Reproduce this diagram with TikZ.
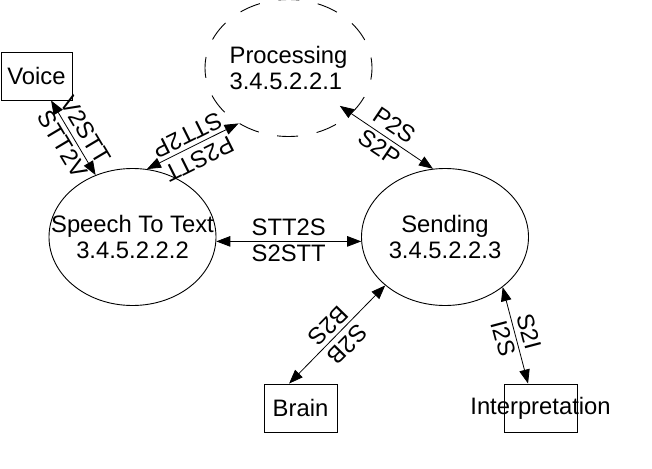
\documentclass[tikz,border=0pt]{standalone}
\usepackage{fontspec}
\setmainfont{Liberation Sans}
\usetikzlibrary{arrows.meta,shapes.geometric,calc}
\tikzset{
  txt/.style={font=\fontsize{23.8}{26}\selectfont, inner sep=0pt},
  ell/.style={ellipse, draw, line width=0.9pt, minimum width=167pt, minimum height=137pt, inner sep=0pt},
  dashell/.style={ell, dash pattern=on 21pt off 18.8pt, dash phase=10.5pt},
  box/.style={rectangle, draw, line width=0.9pt, minimum width=73pt, minimum height=48pt, inner sep=0pt},
  dbl/.style={line width=0.8pt, {Triangle[length=14pt,width=10.5pt]}-{Triangle[length=14pt,width=10.5pt]}},
  lab/.style={font=\fontsize{23.8}{26}\selectfont, sloped, allow upside down, inner sep=3.5pt, midway},
  labup/.style={lab, above=2pt},
  labdown/.style={lab, below},
}
\begin{document}
\begin{tikzpicture}[x=1pt, y=-1pt]
\useasboundingbox (0,0) rectangle (652,468);

% states
\node[dashell] (proc) at (288.5,68) {};
\node[txt, align=left] (proc-t) at (proc) {Processing\\3.4.5.2.2.1};
\node[ell] (stt) at (132.5,237) {};
\node[txt, align=center] (stt-t) at (stt) {Speech To Text\\3.4.5.2.2.2};
\node[ell] (send) at (445,237) {};
\node[txt, align=center] (send-t) at (send) {Sending\\3.4.5.2.2.3};

% external boxes
\node[box, minimum width=71pt] (voice) at (36.5,76) {};
\node[txt] (voice-t) at (voice) {Voice};
\node[box] (brain) at (300.5,408) {};
\node[txt] (brain-t) at (brain) {Brain};
\node[box] (interp) at (540.5,408) {};
\node[txt] (interp-t) at (interp) {Interpretation};

% connectors
\draw[dbl] (voice) -- (stt)
  node[labup] {V2STT} node[labdown] {STT2V};
\draw[dbl] (proc.228) -- (stt.78)
  node[labup] {P2STT} node[labdown] {STT2P};
\draw[dbl] ($(proc.-36)!-14pt!(send.100)$) -- (send.100)
  node[labup] {P2S} node[labdown] {S2P};
\draw[dbl] (stt.-3) -- (send.183)
  node[labup] {STT2S} node[labdown] {S2STT};
\draw[dbl] (send.219) -- (brain.115.6)
  node[labup] {S2B} node[labdown] {B2S};
\draw[dbl] (send.-41) -- (interp.117.5)
  node[labup] {S2I} node[labdown] {I2S};
\end{tikzpicture}
\end{document}
